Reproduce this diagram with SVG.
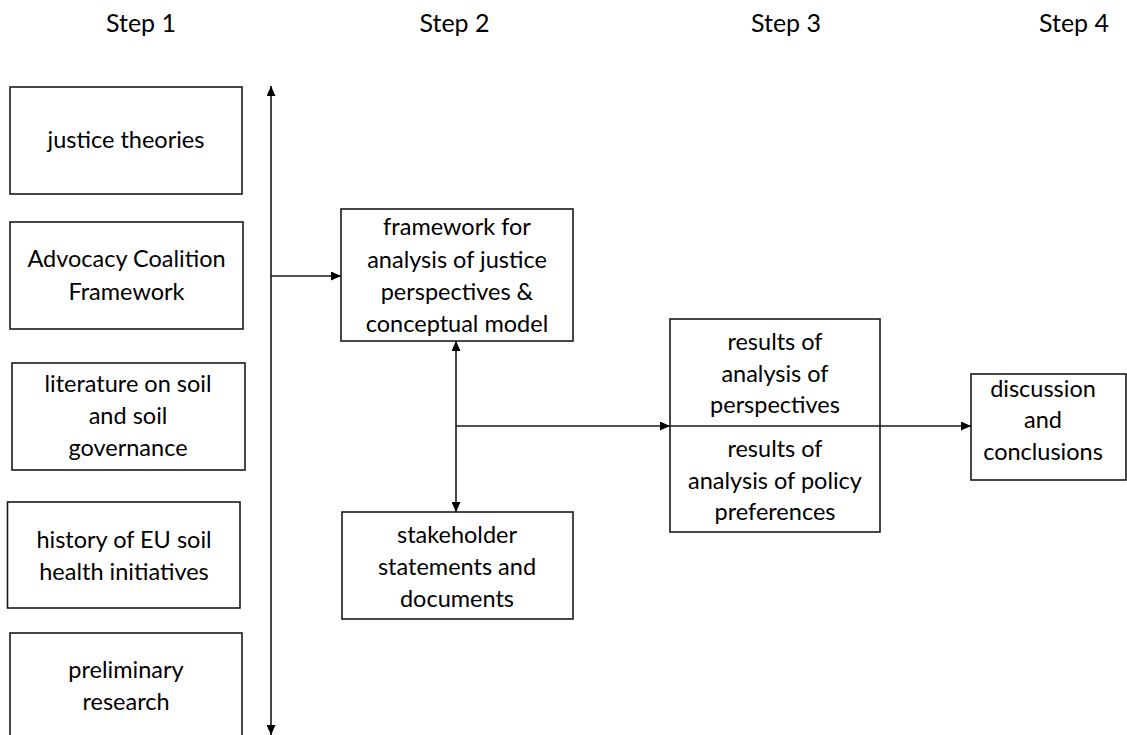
<svg xmlns="http://www.w3.org/2000/svg" width="1127" height="735" viewBox="0 0 1127 735">
<style>
.box{fill:#fff;stroke:#1a1a1a;stroke-width:1.6}
.t{font-family:Lato,"Liberation Sans",sans-serif;font-size:23.5px;fill:#000;text-anchor:middle}
.s{font-family:Lato,"Liberation Sans",sans-serif;font-size:25px;fill:#000;text-anchor:middle}
.c{stroke:#1a1a1a;stroke-width:1.6;fill:none}
</style>
<defs>
<marker id="ah" viewBox="0 0 10 9" refX="10" refY="4.5" markerWidth="10" markerHeight="9" markerUnits="userSpaceOnUse" orient="auto-start-reverse">
<path d="M0,0 L10,4.5 L0,9 z" fill="#000"/>
</marker>
</defs>
<g id="steps">
<text class="s" x="141" y="32">Step 1</text>
<text class="s" x="454.5" y="32">Step 2</text>
<text class="s" x="786" y="32">Step 3</text>
<text class="s" x="1074" y="32">Step 4</text>
</g>
<g id="connectors">
<line class="c" x1="271" y1="86" x2="271" y2="735" marker-start="url(#ah)" marker-end="url(#ah)"/>
<line class="c" x1="271" y1="276" x2="341" y2="276" marker-end="url(#ah)"/>
<line class="c" x1="456" y1="341" x2="456" y2="512" marker-start="url(#ah)" marker-end="url(#ah)"/>
<line class="c" x1="456" y1="426" x2="670" y2="426" marker-end="url(#ah)"/>
</g>
<g id="n1"><rect class="box" x="10" y="87" width="232" height="107"/>
<text class="t" x="126" y="148">justice theories</text></g>
<g id="n2"><rect class="box" x="10" y="222" width="233" height="107"/>
<text class="t" x="126.5" y="267">Advocacy Coalition</text>
<text class="t" x="126.5" y="300">Framework</text></g>
<g id="n3"><rect class="box" x="12" y="363" width="233" height="107"/>
<text class="t" x="128" y="392">literature on soil</text>
<text class="t" x="128" y="424">and soil</text>
<text class="t" x="128" y="456">governance</text></g>
<g id="n4"><rect class="box" x="7.5" y="502" width="232.5" height="106"/>
<text class="t" x="124" y="548">history of EU soil</text>
<text class="t" x="124" y="580">health initiatives</text></g>
<g id="n5"><rect class="box" x="10" y="633" width="232" height="110"/>
<text class="t" x="126" y="678">preliminary</text>
<text class="t" x="126" y="710">research</text></g>
<g id="n6"><rect class="box" x="341" y="209" width="232" height="132"/>
<text class="t" x="457" y="235">framework for</text>
<text class="t" x="457" y="268">analysis of justice</text>
<text class="t" x="457" y="300">perspectives &amp;</text>
<text class="t" x="457" y="332">conceptual model</text></g>
<g id="n7"><rect class="box" x="342" y="512" width="231" height="107"/>
<text class="t" x="457" y="543">stakeholder</text>
<text class="t" x="457" y="575">statements and</text>
<text class="t" x="457" y="607">documents</text></g>
<g id="n8"><rect class="box" x="670" y="319" width="210" height="213"/>
<text class="t" x="775" y="350">results of</text>
<text class="t" x="775" y="382">analysis of</text>
<text class="t" x="775" y="413">perspectives</text>
<text class="t" x="775" y="457">results of</text>
<text class="t" x="775" y="489">analysis of policy</text>
<text class="t" x="775" y="520">preferences</text></g>
<g id="n9"><rect class="box" x="971" y="374" width="155" height="106"/>
<text class="t" x="1043" y="397">discussion</text>
<text class="t" x="1043" y="428">and</text>
<text class="t" x="1043" y="460">conclusions</text></g>
<g id="connectors2">
<line class="c" x1="670" y1="426" x2="971" y2="426" marker-end="url(#ah)"/>
</g>
</svg>
